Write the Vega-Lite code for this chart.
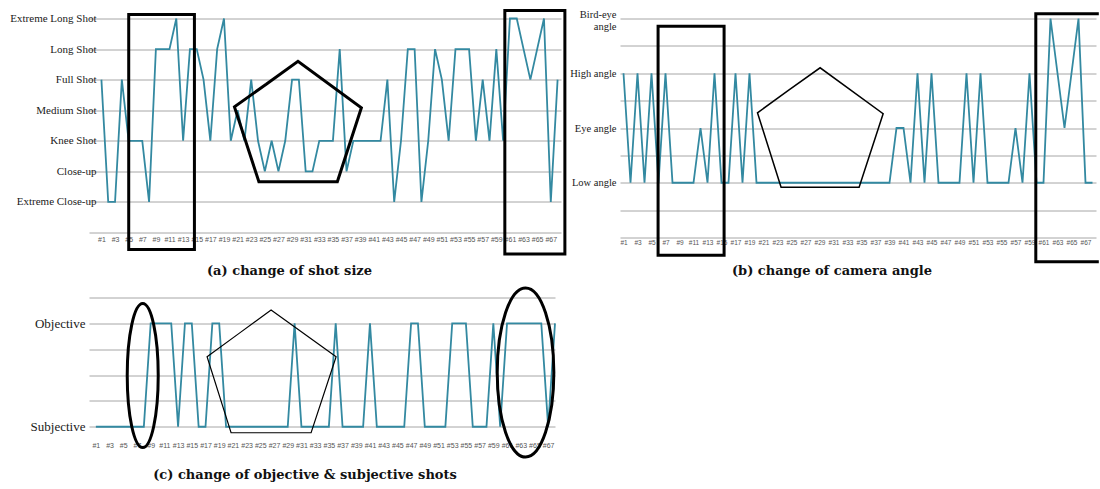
{
  "$schema": "https://vega.github.io/schema/vega-lite/v6.json",
  "padding": {"left": 9, "top": 4.5, "right": 0, "bottom": 0},
  "background": "white",
  "config": {
    "view": {"stroke": null},
    "axis": {"domain": false, "ticks": false, "gridColor": "#A6A6A6", "gridWidth": 1, "labelOverlap": false, "labelFlush": false, "labelBound": false}
  },
  "datasets": {
    "shotA": [
      {"shot":1,"level":5},{"shot":2,"level":1},{"shot":3,"level":1},{"shot":4,"level":5},{"shot":5,"level":3},{"shot":6,"level":3},{"shot":7,"level":3},{"shot":8,"level":1},{"shot":9,"level":6},{"shot":10,"level":6},
      {"shot":11,"level":6},{"shot":12,"level":7},{"shot":13,"level":3},{"shot":14,"level":6},{"shot":15,"level":6},{"shot":16,"level":5},{"shot":17,"level":3},{"shot":18,"level":6},{"shot":19,"level":7},{"shot":20,"level":3},
      {"shot":21,"level":4},{"shot":22,"level":3},{"shot":23,"level":5},{"shot":24,"level":3},{"shot":25,"level":2},{"shot":26,"level":3},{"shot":27,"level":2},{"shot":28,"level":3},{"shot":29,"level":5},{"shot":30,"level":5},
      {"shot":31,"level":2},{"shot":32,"level":2},{"shot":33,"level":3},{"shot":34,"level":3},{"shot":35,"level":3},{"shot":36,"level":6},{"shot":37,"level":2},{"shot":38,"level":3},{"shot":39,"level":3},{"shot":40,"level":3},
      {"shot":41,"level":3},{"shot":42,"level":3},{"shot":43,"level":5},{"shot":44,"level":1},{"shot":45,"level":3},{"shot":46,"level":6},{"shot":47,"level":6},{"shot":48,"level":1},{"shot":49,"level":3},{"shot":50,"level":6},
      {"shot":51,"level":5},{"shot":52,"level":3},{"shot":53,"level":6},{"shot":54,"level":6},{"shot":55,"level":6},{"shot":56,"level":3},{"shot":57,"level":5},{"shot":58,"level":3},{"shot":59,"level":6},{"shot":60,"level":3},
      {"shot":61,"level":7},{"shot":62,"level":7},{"shot":63,"level":6},{"shot":64,"level":5},{"shot":65,"level":6},{"shot":66,"level":7},{"shot":67,"level":1},{"shot":68,"level":5}
    ],
    "shotB": [
      {"shot":1,"level":3},{"shot":2,"level":1},{"shot":3,"level":3},{"shot":4,"level":1},{"shot":5,"level":3},{"shot":6,"level":1},{"shot":7,"level":3},{"shot":8,"level":1},{"shot":9,"level":1},{"shot":10,"level":1},
      {"shot":11,"level":1},{"shot":12,"level":2},{"shot":13,"level":1},{"shot":14,"level":3},{"shot":15,"level":1},{"shot":16,"level":1},{"shot":17,"level":3},{"shot":18,"level":1},{"shot":19,"level":3},{"shot":20,"level":1},
      {"shot":21,"level":1},{"shot":22,"level":1},{"shot":23,"level":1},{"shot":24,"level":1},{"shot":25,"level":1},{"shot":26,"level":1},{"shot":27,"level":1},{"shot":28,"level":1},{"shot":29,"level":1},{"shot":30,"level":1},
      {"shot":31,"level":1},{"shot":32,"level":1},{"shot":33,"level":1},{"shot":34,"level":1},{"shot":35,"level":1},{"shot":36,"level":1},{"shot":37,"level":1},{"shot":38,"level":1},{"shot":39,"level":1},{"shot":40,"level":2},
      {"shot":41,"level":2},{"shot":42,"level":1},{"shot":43,"level":3},{"shot":44,"level":1},{"shot":45,"level":3},{"shot":46,"level":1},{"shot":47,"level":1},{"shot":48,"level":1},{"shot":49,"level":1},{"shot":50,"level":3},
      {"shot":51,"level":1},{"shot":52,"level":3},{"shot":53,"level":1},{"shot":54,"level":1},{"shot":55,"level":1},{"shot":56,"level":1},{"shot":57,"level":2},{"shot":58,"level":1},{"shot":59,"level":3},{"shot":60,"level":1},
      {"shot":61,"level":1},{"shot":62,"level":4},{"shot":63,"level":3},{"shot":64,"level":2},{"shot":65,"level":3},{"shot":66,"level":4},{"shot":67,"level":1},{"shot":68,"level":1}
    ],
    "shotC": [
      {"shot":1,"level":0},{"shot":2,"level":0},{"shot":3,"level":0},{"shot":4,"level":0},{"shot":5,"level":0},{"shot":6,"level":0},{"shot":7,"level":0},{"shot":8,"level":0},{"shot":9,"level":1},{"shot":10,"level":1},
      {"shot":11,"level":1},{"shot":12,"level":1},{"shot":13,"level":0},{"shot":14,"level":1},{"shot":15,"level":1},{"shot":16,"level":0},{"shot":17,"level":0},{"shot":18,"level":1},{"shot":19,"level":1},{"shot":20,"level":0},
      {"shot":21,"level":0},{"shot":22,"level":0},{"shot":23,"level":0},{"shot":24,"level":0},{"shot":25,"level":0},{"shot":26,"level":0},{"shot":27,"level":0},{"shot":28,"level":0},{"shot":29,"level":0},{"shot":30,"level":1},
      {"shot":31,"level":0},{"shot":32,"level":0},{"shot":33,"level":0},{"shot":34,"level":0},{"shot":35,"level":0},{"shot":36,"level":1},{"shot":37,"level":0},{"shot":38,"level":0},{"shot":39,"level":0},{"shot":40,"level":0},
      {"shot":41,"level":1},{"shot":42,"level":0},{"shot":43,"level":0},{"shot":44,"level":0},{"shot":45,"level":0},{"shot":46,"level":0},{"shot":47,"level":1},{"shot":48,"level":1},{"shot":49,"level":0},{"shot":50,"level":0},
      {"shot":51,"level":0},{"shot":52,"level":0},{"shot":53,"level":1},{"shot":54,"level":1},{"shot":55,"level":1},{"shot":56,"level":0},{"shot":57,"level":0},{"shot":58,"level":0},{"shot":59,"level":1},{"shot":60,"level":0},
      {"shot":61,"level":1},{"shot":62,"level":1},{"shot":63,"level":1},{"shot":64,"level":1},{"shot":65,"level":1},{"shot":66,"level":1},{"shot":67,"level":0},{"shot":68,"level":1}
    ],
    "annA": [
      {"shape":"r1","i":0,"x":9.8,"y":7.13},{"shape":"r1","i":1,"x":14.66,"y":7.13},{"shape":"r1","i":2,"x":14.66,"y":-0.556},{"shape":"r1","i":3,"x":5.01,"y":-0.556},{"shape":"r1","i":4,"x":5.01,"y":7.13},{"shape":"r1","i":5,"x":9.8,"y":7.13},
      {"shape":"r2","i":0,"x":64.6,"y":7.26},{"shape":"r2","i":1,"x":69.07,"y":7.26},{"shape":"r2","i":2,"x":69.07,"y":-0.7},{"shape":"r2","i":3,"x":60.25,"y":-0.7},{"shape":"r2","i":4,"x":60.25,"y":7.26},{"shape":"r2","i":5,"x":64.6,"y":7.26},
      {"shape":"p","i":0,"x":25.2,"y":4.85},{"shape":"p","i":1,"x":29.87,"y":5.6},{"shape":"p","i":2,"x":39.18,"y":4.08},{"shape":"p","i":3,"x":35.65,"y":1.66},{"shape":"p","i":4,"x":24.13,"y":1.66},{"shape":"p","i":5,"x":20.54,"y":4.11},{"shape":"p","i":6,"x":25.2,"y":4.85}
    ],
    "rectB": [
      {"shape":"r1","i":0,"x":10.6,"y":3.86},{"shape":"r1","i":1,"x":15.37,"y":3.86},{"shape":"r1","i":2,"x":15.37,"y":-0.323},{"shape":"r1","i":3,"x":5.94,"y":-0.323},{"shape":"r1","i":4,"x":5.94,"y":3.86},{"shape":"r1","i":5,"x":10.6,"y":3.86},
      {"shape":"r2","i":0,"x":68.9,"y":4.086},{"shape":"r2","i":1,"x":59.9,"y":4.086},{"shape":"r2","i":2,"x":59.9,"y":-0.444},{"shape":"r2","i":3,"x":68.9,"y":-0.444}
    ],
    "pentB": [
      {"i":0,"x":24.6,"y":2.69},{"i":1,"x":29.09,"y":3.1},{"i":2,"x":38.09,"y":2.26},{"i":3,"x":34.66,"y":0.919},{"i":4,"x":23.51,"y":0.919},{"i":5,"x":20.14,"y":2.278},{"i":6,"x":24.6,"y":2.69}
    ],
    "pentC": [
      {"i":0,"x":21.9,"y":0.903},{"i":1,"x":26.57,"y":1.129},{"i":2,"x":36.06,"y":0.677},{"i":3,"x":32.41,"y":-0.058},{"i":4,"x":20.73,"y":-0.058},{"i":5,"x":17.23,"y":0.677},{"i":6,"x":21.9,"y":0.903}
    ],
    "ellLeft": [{"x":7.84,"y":0.495}],
    "ellRight": [{"x":63.7,"y":0.524}]
  },
  "vconcat": [
    {
      "bounds": "flush",
      "spacing": 59,
      "hconcat": [
        {
          "width": 472, "height": 214,
          "title": {"text": "(a) change of shot size", "orient": "bottom", "anchor": "middle", "frame": "group", "dx": -35.5, "offset": 5, "font": "DejaVu Serif", "fontSize": 13, "fontWeight": "bold", "color": "#111111"},
          "layer": [
            {
              "data": {"name": "shotA"},
              "mark": {"type": "line", "color": "#3389A1", "strokeWidth": 1.8},
              "encoding": {
                "x": {"field": "shot", "type": "quantitative", "scale": {"domain": [-0.8235, 68.5], "nice": false, "zero": false},
                      "axis": {"title": null, "grid": false, "tickCount": 200, "values": [1,3,5,7,9,11,13,15,17,19,21,23,25,27,29,31,33,35,37,39,41,43,45,47,49,51,53,55,57,59,61,63,65,67], "labelExpr": "'#' + datum.value", "labelFont": "Liberation Sans", "labelFontSize": 7, "labelColor": "#555555", "labelPadding": 2.5}},
                "y": {"field": "level", "type": "quantitative", "scale": {"domain": [0, 7], "nice": false},
                      "axis": {"title": null, "grid": true, "tickCount": 200, "values": [0,1,2,3,4,5,6,7], "labelExpr": "['','Extreme Close-up','Close-up','Knee Shot','Medium Shot','Full Shot','Long Shot','Extreme Long Shot'][datum.value]", "labelFont": "Liberation Serif", "labelFontSize": 11, "labelColor": "#1a1a1a", "labelPadding": -7}}
              }
            },
            {
              "data": {"name": "annA"},
              "mark": {"type": "line", "color": "black", "strokeWidth": 3, "strokeJoin": "miter"},
              "encoding": {
                "x": {"field": "x", "type": "quantitative"},
                "y": {"field": "y", "type": "quantitative"},
                "detail": {"field": "shape"},
                "order": {"field": "i", "type": "quantitative"}
              }
            }
          ]
        },
        {
          "width": 476, "height": 219,
          "title": {"text": "(b) change of camera angle", "orient": "bottom", "anchor": "middle", "frame": "group", "dx": -26, "offset": -3, "font": "DejaVu Serif", "fontSize": 13, "fontWeight": "bold", "color": "#111111"},
          "layer": [
            {
              "data": {"name": "shotB"},
              "mark": {"type": "line", "color": "#3389A1", "strokeWidth": 1.8},
              "encoding": {
                "x": {"field": "shot", "type": "quantitative", "scale": {"domain": [0.5, 68.5], "nice": false, "zero": false},
                      "axis": {"title": null, "grid": false, "tickCount": 200, "values": [1,3,5,7,9,11,13,15,17,19,21,23,25,27,29,31,33,35,37,39,41,43,45,47,49,51,53,55,57,59,61,63,65,67], "labelExpr": "'#' + datum.value", "labelFont": "Liberation Sans", "labelFontSize": 6.5, "labelColor": "#555555", "labelPadding": 2}},
                "y": {"field": "level", "type": "quantitative", "scale": {"domain": [0, 4], "nice": false},
                      "axis": {"title": null, "grid": true, "tickCount": 200, "values": [0,0.5,1,1.5,2,2.5,3,3.5,4], "labelExpr": "datum.value == 1 ? 'Low angle' : datum.value == 2 ? 'Eye angle' : datum.value == 3 ? 'High angle' : datum.value == 4 ? ['Bird-eye', 'angle'] : ''", "labelFont": "Liberation Serif", "labelFontSize": 10.5, "labelLineHeight": 12, "labelColor": "#1a1a1a", "labelPadding": 4,
                               "labelOffset": {"condition": {"test": "datum.value == 4", "value": -4}, "value": 0}}}
              }
            },
            {
              "data": {"name": "rectB"},
              "mark": {"type": "line", "color": "black", "strokeWidth": 3, "strokeJoin": "miter"},
              "encoding": {
                "x": {"field": "x", "type": "quantitative"},
                "y": {"field": "y", "type": "quantitative"},
                "detail": {"field": "shape"},
                "order": {"field": "i", "type": "quantitative"}
              }
            },
            {
              "data": {"name": "pentB"},
              "mark": {"type": "line", "color": "black", "strokeWidth": 1.5, "strokeJoin": "miter"},
              "encoding": {
                "x": {"field": "x", "type": "quantitative"},
                "y": {"field": "y", "type": "quantitative"},
                "order": {"field": "i", "type": "quantitative"}
              }
            }
          ]
        }
      ]
    },
    {
      "width": 466, "height": 129.25,
      "title": {"text": "(c) change of objective & subjective shots", "orient": "bottom", "anchor": "middle", "frame": "group", "dx": -17, "offset": 5.5, "font": "DejaVu Serif", "fontSize": 13, "fontWeight": "bold", "color": "#111111"},
      "layer": [
        {
          "data": {"name": "shotC"},
          "mark": {"type": "line", "color": "#3389A1", "strokeWidth": 1.8},
          "encoding": {
            "x": {"field": "shot", "type": "quantitative", "scale": {"domain": [0, 68], "nice": false, "zero": false},
                  "axis": {"title": null, "grid": false, "tickCount": 200, "values": [1,3,5,7,9,11,13,15,17,19,21,23,25,27,29,31,33,35,37,39,41,43,45,47,49,51,53,55,57,59,61,63,65,67], "labelExpr": "'#' + datum.value", "labelFont": "Liberation Sans", "labelFontSize": 7, "labelColor": "#555555", "labelPadding": 15}},
            "y": {"field": "level", "type": "quantitative", "scale": {"domain": [0, 1.25], "nice": false},
                  "axis": {"title": null, "grid": true, "tickCount": 200, "values": [0,0.25,0.5,0.75,1,1.25], "labelExpr": "datum.value == 0 ? 'Subjective' : datum.value == 1 ? 'Objective' : ''", "labelFont": "Liberation Serif", "labelFontSize": 13, "labelColor": "#1a1a1a", "labelPadding": 4}}
          }
        },
        {
          "data": {"name": "pentC"},
          "mark": {"type": "line", "color": "black", "strokeWidth": 1.2, "strokeJoin": "miter"},
          "encoding": {
            "x": {"field": "x", "type": "quantitative"},
            "y": {"field": "y", "type": "quantitative"},
            "order": {"field": "i", "type": "quantitative"}
          }
        },
        {
          "data": {"name": "ellLeft"},
          "mark": {"type": "point", "shape": "M0,-1C0.1189,-1,0.2153,-0.5523,0.2153,0C0.2153,0.5523,0.1189,1,0,1C-0.1189,1,-0.2153,0.5523,-0.2153,0C-0.2153,-0.5523,-0.1189,-1,0,-1Z", "size": 20736, "filled": false, "color": "black", "strokeWidth": 3, "opacity": 1},
          "encoding": {
            "x": {"field": "x", "type": "quantitative"},
            "y": {"field": "y", "type": "quantitative"}
          }
        },
        {
          "data": {"name": "ellRight"},
          "mark": {"type": "point", "shape": "M0,-1C0.185,-1,0.335,-0.5523,0.335,0C0.335,0.5523,0.185,1,0,1C-0.185,1,-0.335,0.5523,-0.335,0C-0.335,-0.5523,-0.185,-1,0,-1Z", "size": 28561, "filled": false, "color": "black", "strokeWidth": 3, "opacity": 1},
          "encoding": {
            "x": {"field": "x", "type": "quantitative"},
            "y": {"field": "y", "type": "quantitative"}
          }
        }
      ]
    }
  ],
  "bounds": "full",
  "spacing": 3
}
